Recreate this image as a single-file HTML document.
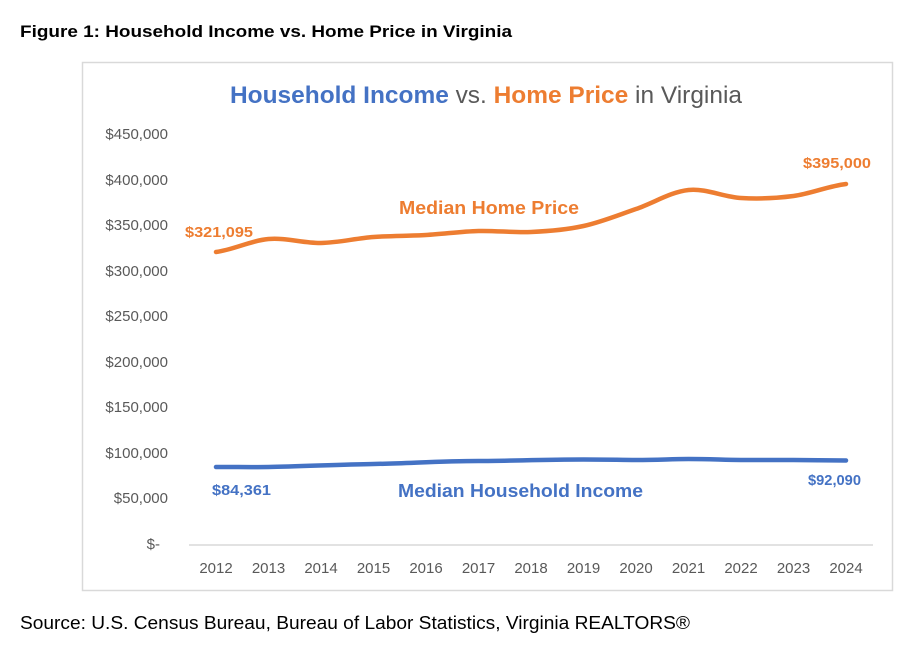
<!DOCTYPE html>
<html><head><meta charset="utf-8"><style>
body{margin:0;background:#fff;width:922px;height:649px;overflow:hidden;font-family:"Liberation Sans",sans-serif;}
</style></head><body>
<svg width="922" height="649" xmlns="http://www.w3.org/2000/svg" font-family="Liberation Sans, sans-serif" style="position:absolute;left:0;top:0">
<text x="20" y="37" font-size="17" font-weight="bold" fill="#000" textLength="492" lengthAdjust="spacingAndGlyphs">Figure 1: Household Income vs. Home Price in Virginia</text>
<rect x="82.5" y="62.5" width="810" height="528" fill="none" stroke="#d9d9d9" stroke-width="1.5"/>
<text x="230" y="103" font-size="24" fill="#595959" textLength="512" lengthAdjust="spacingAndGlyphs"><tspan fill="#4472c4" font-weight="bold">Household Income</tspan> vs. <tspan fill="#ed7d31" font-weight="bold">Home Price</tspan> in Virginia</text>
<g font-size="15" fill="#595959" text-anchor="end">
<text x="168" y="139">$450,000</text>
<text x="168" y="185">$400,000</text>
<text x="168" y="230">$350,000</text>
<text x="168" y="276">$300,000</text>
<text x="168" y="321">$250,000</text>
<text x="168" y="367">$200,000</text>
<text x="168" y="412">$150,000</text>
<text x="168" y="458">$100,000</text>
<text x="168" y="503">$50,000</text>
<text x="160" y="549">$-</text>
</g>
<line x1="189" y1="545" x2="873" y2="545" stroke="#d9d9d9" stroke-width="1.5"/>
<g font-size="15" fill="#595959" text-anchor="middle">
<text x="216" y="573">2012</text><text x="268.5" y="573">2013</text><text x="321" y="573">2014</text><text x="373.5" y="573">2015</text><text x="426" y="573">2016</text><text x="478.5" y="573">2017</text><text x="531" y="573">2018</text><text x="583.5" y="573">2019</text><text x="636" y="573">2020</text><text x="688.5" y="573">2021</text><text x="741" y="573">2022</text><text x="793.5" y="573">2023</text><text x="846" y="573">2024</text>
</g>
<path fill="none" stroke="#ed7d31" stroke-width="4.5" stroke-linecap="round" d="M216,252 C233.5,249.8 251,240.5 268.5,239 C286,237.5 303.5,243.3 321,243 C338.5,242.7 356,238.3 373.5,237 C391,235.7 408.5,236 426,235 C443.5,234 461,231.5 478.5,231 C496,230.5 513.5,232.8 531,232 C548.5,231.2 566,229.8 583.5,226 C601,222.2 618.5,215 636,209 C653.5,203 671,191.8 688.5,190 C706,188.2 723.5,197 741,198 C758.5,199 776,198.3 793.5,196 C811,193.7 828.5,186 846,184"/>
<path fill="none" stroke="#4472c4" stroke-width="4.5" stroke-linecap="round" d="M216,467 C240,467 250,467.2 268.5,467 C300,466.5 340,464.5 373.5,464 C410,463.3 440,461 478.5,461 C510,461 540,459.5 583.5,459.5 C610,459.5 620,460 636,460 C660,460 670,459 688.5,459 C710,459 725,460 741,460 C760,460 780,460 793.5,460 C810,460 830,460.5 846,460.5"/>
<g font-weight="bold" font-size="15" lengthAdjust="spacingAndGlyphs">
<text x="185" y="237" fill="#ed7d31" textLength="68" lengthAdjust="spacingAndGlyphs">$321,095</text>
<text x="803" y="168" fill="#ed7d31" textLength="68" lengthAdjust="spacingAndGlyphs">$395,000</text>
<text x="399" y="214" fill="#ed7d31" font-size="18" textLength="180" lengthAdjust="spacingAndGlyphs">Median Home Price</text>
<text x="212" y="495" fill="#4472c4" textLength="59" lengthAdjust="spacingAndGlyphs">$84,361</text>
<text x="808" y="485" fill="#4472c4" textLength="53" lengthAdjust="spacingAndGlyphs">$92,090</text>
<text x="398" y="497" fill="#4472c4" font-size="18" textLength="245" lengthAdjust="spacingAndGlyphs">Median Household Income</text>
</g>
<text x="20" y="629" font-size="18" fill="#000" textLength="670" lengthAdjust="spacingAndGlyphs">Source: U.S. Census Bureau, Bureau of Labor Statistics, Virginia REALTORS®</text>
</svg>
</body></html>
